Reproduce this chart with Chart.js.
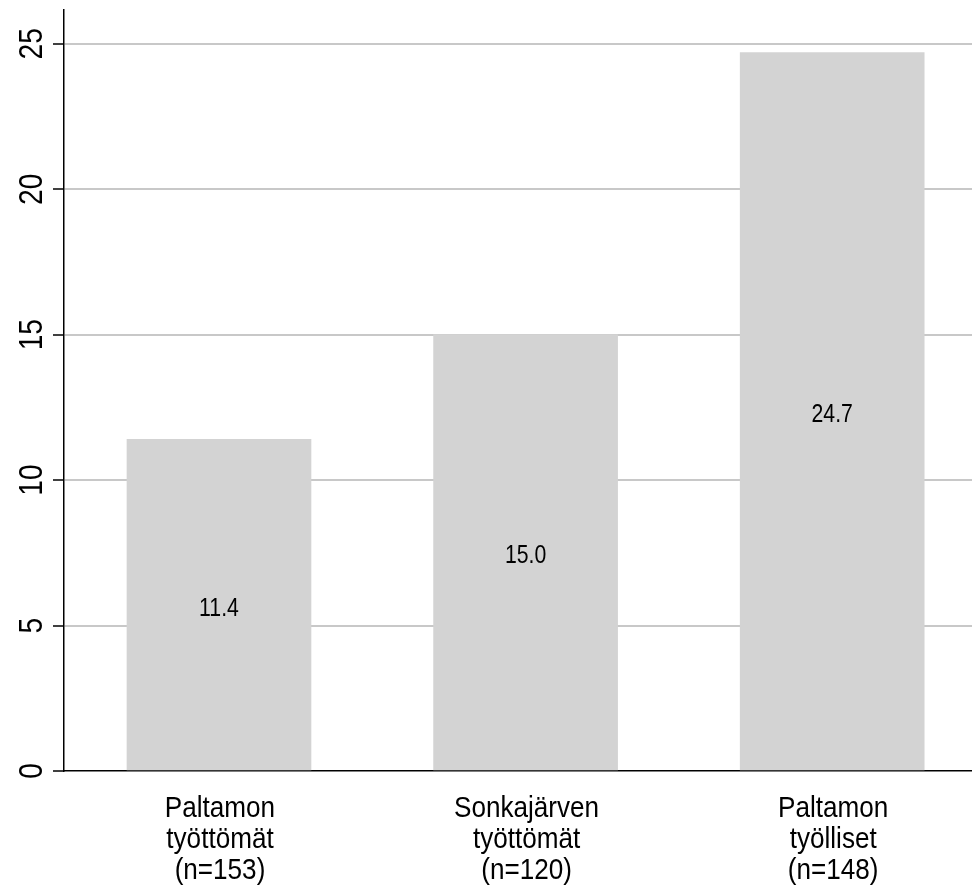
<!DOCTYPE html>
<html>
<head>
<meta charset="utf-8">
<script src="https://cdn.jsdelivr.net/npm/chart.js@4.4.1/dist/chart.umd.min.js"></script>
<style>
  html, body { margin: 0; padding: 0; background: #ffffff; }
  #wrap { width: 972px; height: 889px; }
</style>
</head>
<body>
<div id="wrap"><canvas id="c" width="972" height="889"></canvas></div>
<script>
const categories = [
  ['Paltamon', 'työttömät', '(n=153)'],
  ['Sonkajärven', 'työttömät', '(n=120)'],
  ['Paltamon', 'työlliset', '(n=148)']
];
const positions = [0, 1, 2];
const values = [11.4, 15.0, 24.7];
const valueLabels = ['11.4', '15.0', '24.7'];
const yTicks = [0, 5, 10, 15, 20, 25];

const FONT = "'Liberation Sans', Arial, sans-serif";

// draws text horizontally condensed (reference uses a narrow sans face)
function condensedText(ctx, text, x, y, squeeze) {
  ctx.save();
  ctx.translate(x, y);
  ctx.scale(squeeze, 1);
  ctx.fillText(text, 0, 0);
  ctx.restore();
}

const yTickLabelPlugin = {
  id: 'yTickLabels',
  afterDraw(chart) {
    const ctx = chart.ctx;
    const ys = chart.scales.y;
    ctx.save();
    ctx.fillStyle = '#000';
    ctx.font = "34px " + FONT;
    ctx.textAlign = 'center';
    ctx.textBaseline = 'alphabetic';
    yTicks.forEach(t => {
      const py = ys.getPixelForValue(t);
      ctx.save();
      ctx.translate(42, py);
      ctx.rotate(-Math.PI / 2);
      condensedText(ctx, String(t), 0, 0, 0.83);
      ctx.restore();
    });
    ctx.restore();
  }
};

const xTickLabelPlugin = {
  id: 'xTickLabels',
  afterDraw(chart) {
    const ctx = chart.ctx;
    const xs = chart.scales.x;
    const base = xs.top;
    const baselines = [46, 77, 107.5];
    ctx.save();
    ctx.fillStyle = '#000';
    ctx.font = "30px " + FONT;
    ctx.textAlign = 'center';
    ctx.textBaseline = 'alphabetic';
    positions.forEach((p, i) => {
      const px = xs.getPixelForValue(p);
      categories[i].forEach((line, j) => {
        condensedText(ctx, line, px + 1, base + baselines[j], 0.87);
      });
    });
    ctx.restore();
  }
};

const valueLabelPlugin = {
  id: 'valueLabels',
  afterDatasetsDraw(chart) {
    const ctx = chart.ctx;
    const meta = chart.getDatasetMeta(0);
    ctx.save();
    ctx.fillStyle = '#000';
    ctx.font = "25px " + FONT;
    ctx.textAlign = 'center';
    ctx.textBaseline = 'alphabetic';
    meta.data.forEach((bar, i) => {
      const p = bar.getProps(['x', 'y', 'base'], true);
      condensedText(ctx, valueLabels[i], p.x, (p.y + p.base) / 2 + 11, 0.85);
    });
    ctx.restore();
  }
};

new Chart(document.getElementById('c'), {
  type: 'bar',
  data: {
    datasets: [{
      data: values.map((v, i) => ({ x: positions[i], y: v })),
      backgroundColor: '#d3d3d3',
      borderWidth: 0,
      barThickness: 184
    }]
  },
  options: {
    responsive: false,
    animation: false,
    events: [],
    layout: { padding: { top: 10, right: 0, left: 0, bottom: 0 } },
    plugins: { legend: { display: false }, tooltip: { enabled: false } },
    scales: {
      x: {
        type: 'linear',
        offset: false,
        min: -0.5055,
        max: 2.456,
        afterBuildTicks(scale) { scale.ticks = positions.map(v => ({ value: v })); },
        afterFit(scale) { scale.height = 118; },
        grid: { display: false, drawTicks: false, offset: false },
        border: { display: true, color: '#000', width: 1.5 },
        ticks: { display: false }
      },
      y: {
        type: 'linear',
        min: 0,
        max: 26.16,
        afterBuildTicks(scale) { scale.ticks = yTicks.map(v => ({ value: v })); },
        afterFit(scale) { scale.width = 64; },
        grid: {
          display: true,
          drawTicks: true,
          tickLength: 11,
          tickColor: '#000',
          tickWidth: 1.5,
          lineWidth: 2,
          color: (ctx) => (ctx.tick && ctx.tick.value === 0) ? 'rgba(0,0,0,0)' : '#c8c8c8'
        },
        border: { display: true, color: '#000', width: 1.5 },
        ticks: { display: false }
      }
    }
  },
  plugins: [yTickLabelPlugin, xTickLabelPlugin, valueLabelPlugin]
});
</script>
</body>
</html>
